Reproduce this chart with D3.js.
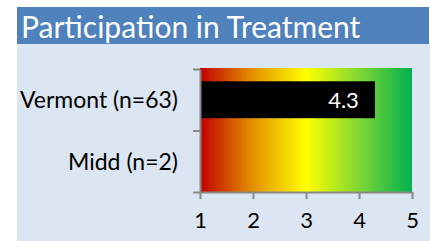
<!DOCTYPE html>
<html><head><meta charset="utf-8">
<script src="https://cdn.jsdelivr.net/npm/d3@7"></script>
<style>html,body{margin:0;padding:0;background:#fff;}svg{display:block;}</style>
</head><body>
<script>
const title = "Participation in Treatment";
const categories = ["Vermont (n=63)", "Midd (n=2)"];
const values = [4.3, null];
const valueLabels = ["4.3", ""];
const xTicks = [1, 2, 3, 4, 5];
const xDomain = [1, 5];

const W = 430, H = 241;
const font = "Lato, 'Open Sans', sans-serif";
const svg = d3.select("body").append("svg").attr("width", W).attr("height", H);

svg.append("rect").attr("x", 17).attr("y", 44).attr("width", W - 17).attr("height", H - 44).attr("fill", "#dce6f2");
svg.append("rect").attr("x", 17).attr("y", 7).attr("width", W - 18).attr("height", 37).attr("fill", "#4f81bd");
svg.append("text").attr("x", 21).attr("y", 37.5).attr("fill", "#fff")
  .style("font-family", font).style("font-size", "30px").text(title);

const x = d3.scaleLinear().domain(xDomain).range([200, 412]);
const y = d3.scaleBand().domain(categories).range([69, 192]).paddingInner(0.4).paddingOuter(0.2);

const defs = svg.append("defs");
const grad = defs.append("linearGradient").attr("id", "g").attr("x1", "0%").attr("x2", "100%");
grad.append("stop").attr("offset", "0%").attr("stop-color", "#c00000");
grad.append("stop").attr("offset", "25%").attr("stop-color", "#e39200");
grad.append("stop").attr("offset", "50%").attr("stop-color", "#ffff00");
grad.append("stop").attr("offset", "75%").attr("stop-color", "#7fd733");
grad.append("stop").attr("offset", "100%").attr("stop-color", "#00b050");

svg.append("rect").attr("x", x(xDomain[0])).attr("y", 68).attr("width", x(xDomain[1]) - x(xDomain[0])).attr("height", 124)
  .attr("fill", "url(#g)");

const data = categories.map((c, i) => ({c, v: values[i], l: valueLabels[i]})).filter(d => d.v != null);
svg.selectAll("rect.bar").data(data).enter().append("rect").attr("class", "bar")
  .attr("x", x(xDomain[0])).attr("y", d => y(d.c)).attr("width", d => x(d.v) - x(xDomain[0])).attr("height", y.bandwidth())
  .attr("fill", "#000");
svg.selectAll("text.val").data(data).enter().append("text").attr("class", "val")
  .attr("x", d => x(d.v) - 16).attr("y", d => y(d.c) + y.bandwidth() / 2).attr("dy", "0.36em")
  .attr("text-anchor", "end").attr("fill", "#fff").style("font-family", font).style("font-size", "22px")
  .text(d => d.l);

// category labels
svg.selectAll("text.cat").data(categories).enter().append("text").attr("class", "cat")
  .attr("x", 178).attr("y", d => y(d) + y.bandwidth() / 2).attr("dy", "0.36em")
  .attr("text-anchor", "end").attr("fill", "#000").style("font-family", font).style("font-size", "23px")
  .text(d => d);

// y axis (ticks at band boundaries)
const yEdges = [y.range()[0]].concat(categories.map(c => y(c) + y.bandwidth() + y.step() * y.paddingInner() / 2).slice(0, -1)).concat([y.range()[1]]);
const yLin = d3.scaleLinear().domain([0, 1]).range([y.range()[0], y.range()[1]]);
const yAxisG = svg.append("g").attr("transform", `translate(${x(xDomain[0])},0)`)
  .call(d3.axisLeft(yLin).tickValues(yEdges.map(e => yLin.invert(e))).tickSize(7).tickFormat("").tickSizeOuter(0));
yAxisG.selectAll("path,line").attr("stroke", "#888").attr("stroke-width", 2);

// x axis
const xAxisG = svg.append("g").attr("transform", `translate(0,${y.range()[1]})`)
  .call(d3.axisBottom(x).tickValues(xTicks).tickSize(7).tickSizeOuter(0).tickFormat(d3.format("d")));
xAxisG.selectAll("path,line").attr("stroke", "#888").attr("stroke-width", 2);
xAxisG.selectAll("text").attr("fill", "#000").attr("y", 20).attr("dy", "0.71em")
  .style("font-family", font).style("font-size", "22px");
</script>
</body></html>
